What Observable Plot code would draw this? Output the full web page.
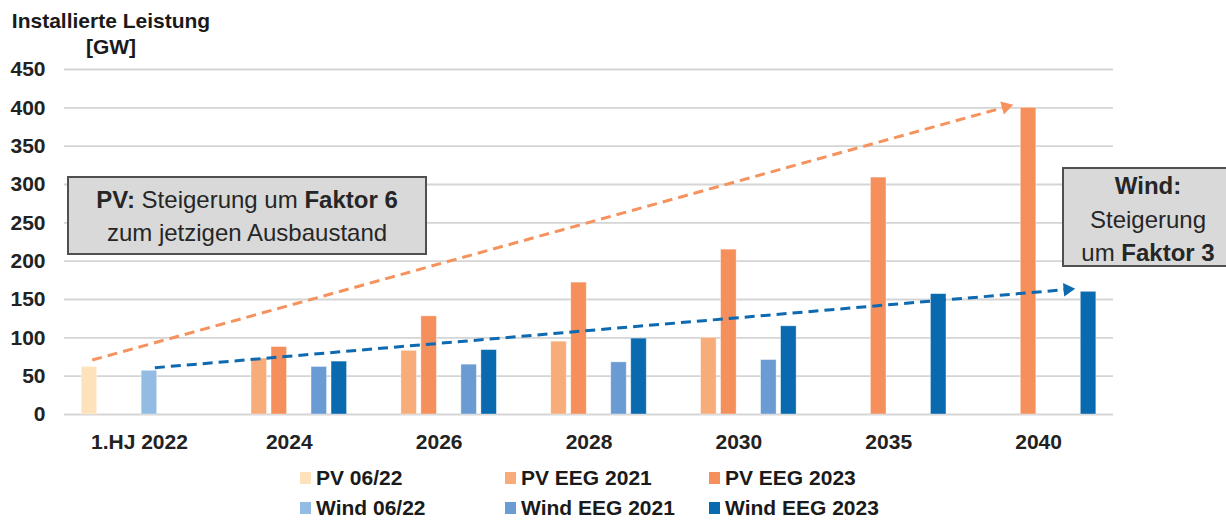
<!DOCTYPE html>
<html>
<head>
<meta charset="utf-8">
<script src="https://cdn.jsdelivr.net/npm/d3@7"></script>
<script src="https://cdn.jsdelivr.net/npm/@observablehq/plot@0.6"></script>
<style>
  body { margin: 0; background: #fff; font-family: "Liberation Sans", Arial, sans-serif; color: #222; }
  #wrap { position: relative; width: 1226px; height: 521px; overflow: hidden; background: #fff; }
  #chart { position: absolute; left: 0; top: 0; }
  .title { position: absolute; left: 0px; top: 8px; width: 222px; text-align: center; font-weight: bold; font-size: 21px; line-height: 26px; color: #1a1a1a; }
  .box { position: absolute; background: #d9d9d9; border: 2px solid #505050; box-sizing: border-box; text-align: center; font-size: 24px; color: #262626; white-space: nowrap; }
  .legend-item { position: absolute; display: flex; align-items: center; font-weight: bold; font-size: 21px; height: 24px; color: #1a1a1a; white-space: nowrap; }
  .sw { width: 11px; height: 12px; margin-right: 5px; flex: none; }
</style>
</head>
<body>
<div id="wrap">
  <div id="chart"></div>
  <div class="title">Installierte Leistung<br>[GW]</div>
  <div class="box" style="left:67px;top:176px;width:360px;height:79px;line-height:33px;padding-top:5px;"><b>PV:</b> Steigerung um <b>Faktor 6</b><br>zum jetzigen Ausbaustand</div>
  <div class="box" style="left:1062px;top:167px;width:172px;height:100px;line-height:33.5px;padding-top:0px;"><b>Wind:</b><br>Steigerung<br>um <b>Faktor 3</b></div>
  <div id="legend"></div>
</div>
<script>
// ---- data ----
const categories = ["1.HJ 2022", "2024", "2026", "2028", "2030", "2035", "2040"];
const seriesNames = ["PV 06/22", "PV EEG 2021", "PV EEG 2023", "Wind 06/22", "Wind EEG 2021", "Wind EEG 2023"];
const seriesColors = ["#fde2bc", "#f8ac79", "#f58f5b", "#92bce4", "#6a9cd3", "#0a6ab0"];

const pv0622      = [62, null, null, null, null, null, null];
const pvEeg2021   = [null, 73, 83, 95, 100, null, null];
const pvEeg2023   = [null, 88, 128, 172, 215, 309, 400];
const wind0622    = [57, null, null, null, null, null, null];
const windEeg2021 = [null, 62, 65, 68, 71, null, null];
const windEeg2023 = [null, 69, 84, 99, 115, 157, 160];

const yTicks = [0, 50, 100, 150, 200, 250, 300, 350, 400, 450];

// trend arrows (x in category index units, y in GW)
const arrowPvX = [-0.315, 5.833];
const arrowPvY = [71, 404];
const arrowWindX = [0.103, 6.246];
const arrowWindY = [61, 164];

// ---- layout ----
const W = 1226, H = 460, mL = 64, mR = 113, mT = 69, mB = 46;
const pxX = (W - mL - mR) / categories.length;   // px per category
const pxY = (H - mT - mB) / 450;                  // px per GW
const slot = 20 / pxX;
const bw = 15.5 / pxX;

const seriesValues = [pv0622, pvEeg2021, pvEeg2023, wind0622, windEeg2021, windEeg2023];
const bars = [];
seriesValues.forEach((vals, j) => vals.forEach((v, i) => {
  if (v != null) bars.push({series: seriesNames[j], i, j, value: v});
}));

function arrowParts(xs, ys) {
  const dxp = (xs[1] - xs[0]) * pxX, dyp = -(ys[1] - ys[0]) * pxY;
  const len = Math.hypot(dxp, dyp), ux = dxp / len, uy = dyp / len;
  const back = d => ({x: xs[1] - ux * d / pxX, y: ys[1] + uy * d / pxY});
  const lineEnd = back(9), head = back(8);
  return {
    line: {x1: xs[0], y1: ys[0], x2: lineEnd.x, y2: lineEnd.y},
    head: {x: head.x, y: head.y, rotate: Math.atan2(uy, ux) * 180 / Math.PI + 90}
  };
}
const aPv = arrowParts(arrowPvX, arrowPvY);
const aWind = arrowParts(arrowWindX, arrowWindY);
const orangeLine = "#f5925d", blueLine = "#0d69b0";

const plot = Plot.plot({
  width: W, height: H,
  marginLeft: mL, marginRight: mR, marginTop: mT, marginBottom: mB,
  style: {fontFamily: "'Liberation Sans', Arial, sans-serif", fontSize: "21px", color: "#222", background: "transparent", overflow: "visible"},
  x: {type: "linear", domain: [-0.5, categories.length - 0.5]},
  y: {domain: [0, 450]},
  color: {domain: seriesNames, range: seriesColors},
  marks: [
    Plot.ruleY(yTicks, {stroke: "#d5d5d5", strokeWidth: 1.8}),
    Plot.rect(bars, {
      x1: d => d.i + (d.j - 2.5) * slot - bw / 2,
      x2: d => d.i + (d.j - 2.5) * slot + bw / 2,
      y1: 0, y2: "value", fill: "series",
      stroke: "#ffffff", strokeOpacity: 0.45, strokeWidth: 0.8
    }),
    Plot.link([aPv.line], {x1: "x1", y1: "y1", x2: "x2", y2: "y2", stroke: orangeLine, strokeWidth: 3, strokeDasharray: "10,6"}),
    Plot.link([aWind.line], {x1: "x1", y1: "y1", x2: "x2", y2: "y2", stroke: blueLine, strokeWidth: 3, strokeDasharray: "10,6"}),
    Plot.dot([aPv.head], {x: "x", y: "y", rotate: "rotate", symbol: "triangle", r: 5, fill: orangeLine, stroke: "none"}),
    Plot.dot([aWind.head], {x: "x", y: "y", rotate: "rotate", symbol: "triangle", r: 5, fill: blueLine, stroke: "none"}),
    Plot.axisY(yTicks, {tickSize: 0, tickPadding: 19, fontSize: 21, fontWeight: "bold", label: null}),
    Plot.axisX(d3.range(categories.length), {tickSize: 0, tickPadding: 20, tickFormat: i => categories[i], fontSize: 21, fontWeight: "bold", label: null})
  ]
});
document.getElementById("chart").appendChild(plot);

// ---- legend ----
const legendCols = [300, 505, 709];
const legendRows = [478, 507.5];
const legend = document.getElementById("legend");
seriesNames.forEach((name, j) => {
  const item = document.createElement("div");
  item.className = "legend-item";
  item.style.left = legendCols[j % 3] + "px";
  item.style.top = (legendRows[Math.floor(j / 3)] - 12) + "px";
  const sw = document.createElement("span");
  sw.className = "sw";
  sw.style.background = seriesColors[j];
  const label = document.createElement("span");
  label.textContent = name;
  item.appendChild(sw);
  item.appendChild(label);
  legend.appendChild(item);
});
</script>
</body>
</html>
